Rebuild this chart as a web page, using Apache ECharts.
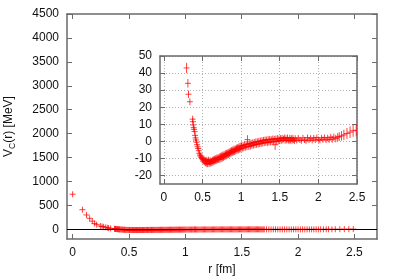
<!DOCTYPE html>
<html><head><meta charset="utf-8">
<script src="https://cdn.jsdelivr.net/npm/echarts@6/dist/echarts.min.js"></script>
<style>html,body{margin:0;padding:0;background:#fff}#c{width:399px;height:279px}</style>
</head><body><div id="c"></div>
<script>
// r [fm]
const r = [
  0.000,0.087,0.123,0.151,0.174,0.195,0.213,0.246,0.261,0.275,0.294,0.311,0.319,0.337,
  0.372,0.376,0.380,0.386,0.392,0.398,0.405,0.410,0.415,0.422,0.430,0.437,0.444,0.452,0.460,0.466,0.474,0.482,0.490,0.498,0.505,
  0.510,0.518,0.525,0.532,0.540,0.547,0.554,0.560,0.567,0.574,0.580,0.587,0.594,0.600,0.607,0.614,0.620,0.628,0.635,0.642,0.650,0.657,0.664,0.671,0.678,0.686,0.693,0.700,
  0.708,0.716,0.724,0.732,0.740,0.748,0.756,0.764,0.772,0.780,0.788,0.796,0.804,0.812,0.820,0.828,0.836,0.844,0.852,0.860,0.868,0.876,0.884,0.892,0.900,0.908,0.916,0.924,0.932,0.940,0.948,0.956,0.964,0.972,0.980,0.988,0.996,
  1.005,1.015,1.025,1.035,1.045,1.055,1.065,1.075,1.082,1.090,1.100,1.110,1.120,1.130,1.140,1.150,1.160,1.170,1.180,1.190,1.200,1.210,1.220,1.230,1.240,1.250,1.260,1.270,1.280,1.290,1.300,1.310,1.320,1.330,1.340,1.350,1.360,1.370,1.380,1.390,1.400,1.410,1.420,1.430,1.440,1.450,1.460,1.470,1.480,1.490,1.500,
  1.51,1.52,1.53,1.54,1.55,1.56,1.57,1.58,1.59,1.60,1.61,1.62,1.63,1.64,1.65,1.66,1.67,1.68,1.69,1.70,
  1.72,1.74,1.76,1.78,1.80,1.82,1.84,1.86,1.88,1.90,1.92,1.94,1.96,1.98,2.00,2.02,2.04,2.06,2.08,2.10,2.12,2.14,2.16,2.18,2.20,
  2.225,2.25,2.27,2.30,2.33,2.37,2.41,2.45,2.49
];
// V_C(r) [MeV]
const vc = [
  735,412,302,232,172,124,100,70,62,54,43,34,27.6,23.2,
  13,11.5,9.6,8,7,5.7,3.5,2,0.8,-0.5,-2,-3.2,-4.2,-5.5,-7,-8,-8.6,-9.3,-9.8,-10.3,-10.8,
  -11.6,-10.2,-12.2,-11,-12.8,-10.8,-13.1,-11.4,-13.4,-11.8,-10.8,-13.2,-12,-11.2,-13,-11.6,-12.6,-10.8,-12.4,-10.6,-12,-10.2,-11.6,-10,-11.4,-9.6,-11,-9.4,
  -10.6,-9.2,-10.6,-8.8,-10.2,-8.4,-9.8,-8,-9.4,-7.8,-9,-7.2,-8.6,-7,-8.2,-6.6,-7.8,-6.2,-7.4,-5.8,-7,-5.4,-6.6,-5,-6.2,-4.6,-6,-4.4,-5.6,-4,-5.2,-3.6,-5,-3.2,-4.6,-2.8,-4.4,
  -2.6,-4,-2.4,-3.8,-2,-3.4,-1.8,-3.2,1.0,-1.6,-3,-1.4,-2.8,-1.2,-2.4,-0.8,-2.2,-0.6,-2,-0.4,-1.8,-0.2,-1.6,0,-1.4,0.2,-1.2,0.4,-1,0.6,-0.8,0.8,-0.6,0.8,-0.8,1,-0.4,1.2,-0.4,1,-0.2,1.4,0,1.2,-2,1.4,0,1.6,0.2,1.4,0.4,
  1.8,0.4,2,0.6,1.4,2.2,0.4,1.8,0.6,2.2,0.8,0.2,2,0.6,1.8,0.4,2,0.8,0.2,1.8,
  0.6,2,0.8,0.4,2,0.8,0.4,2.2,0.8,1.8,0.6,2,0.8,2.2,1,0.6,2,1,2.2,0.8,2,1,2.4,1.2,2.4,
  1.6,2.4,2.8,3.2,3.8,4.6,5.4,6.2,6.5
];
// error [MeV]
const err = [
  12,9,7,6,5,4,4,3.5,3.5,2.5,3,2.5,2.2,2,
  2,2,1.8,1.8,1.8,1.8,1.8,1.8,1.8,1.8,1.8,1.8,1.8,1.8,1.8,1.8,1.8,1.8,1.8,1.8,1.8,
  1.8,1.8,1.8,1.8,1.8,1.8,1.8,1.8,1.8,1.8,1.8,1.8,1.8,1.8,1.8,1.8,1.8,1.8,1.8,1.8,1.8,1.8,1.8,1.8,1.8,1.8,1.8,1.8,
  2,2,2,2,2,2,2,2,2,2,2,2,2,2,2,2,2,2,2,2,2,2,2,2,2,2,2,2,2,2,2,2,2,2,2,2,2,
  2,2,2,2,2,2,2,2,2.6,2,2,2,2,2,2,2,2,2,2,2,2,2,2,2,2,2,2,2,2,2,2,2,2,2,2,2,2,2,2,2,2,2,2,2,3,2,2,2,2,2,2,
  1.8,1.8,1.8,1.8,1.8,1.8,1.8,1.8,1.8,1.8,1.8,1.8,1.8,1.8,1.8,1.8,1.8,1.8,1.8,1.8,
  1.8,1.8,1.8,1.8,1.8,1.8,1.8,1.8,1.8,1.8,1.8,1.8,1.8,1.8,1.8,1.8,1.8,1.8,1.8,1.8,1.9,1.9,2,2,2.1,
  2.2,2.4,2.6,2.8,3,3.2,3.4,3.5,3.6
];
const mainXTicks = [0, 0.5, 1, 1.5, 2, 2.5];
const mainYTicks = [0, 500, 1000, 1500, 2000, 2500, 3000, 3500, 4000, 4500];
const insetXTicks = [0, 0.5, 1, 1.5, 2, 2.5];
const insetYTicks = [-20, -10, 0, 10, 20, 30, 40, 50];

const pts = r.map((x, i) => [x, vc[i], err[i]]);
const FONT = 'Liberation Sans';
const frame = { show: true, onZero: false, lineStyle: { color: '#6a6a6a', width: 1.5 } };
const txt = { color: '#111', fontFamily: FONT, fontSize: 12 };

function renderErr(params, api) {
  const x = api.value(0), y = api.value(1), e = api.value(2);
  const c = api.coord([x, y]);
  const hi = api.coord([x, y + e]);
  const lo = api.coord([x, y - e]);
  const h = 3;
  const st = { stroke: 'rgba(255,0,0,0.75)', lineWidth: 1, fill: null };
  return {
    type: 'group',
    children: [
      { type: 'line', shape: { x1: c[0], y1: Math.min(hi[1], c[1] - h), x2: c[0], y2: Math.max(lo[1], c[1] + h) }, style: st },
      { type: 'line', shape: { x1: c[0] - h, y1: c[1], x2: c[0] + h, y2: c[1] }, style: st }
    ]
  };
}

function ax(grid, min, max, ticks, pos, labels, extra) {
  return Object.assign({
    gridIndex: grid, type: 'value', min: min, max: max, position: pos,
    axisLine: frame,
    axisTick: { show: true, inside: true, length: 5, customValues: ticks, lineStyle: { color: '#6a6a6a' } },
    axisLabel: { show: labels, customValues: ticks, margin: 8, color: txt.color, fontFamily: FONT, fontSize: 12,
      formatter: v => String(v) },
    splitLine: { show: false }
  }, extra || {});
}
const dotted = { show: true, lineStyle: { color: '#b0b0b0', type: [1, 2], width: 1 } };

const chart = echarts.init(document.getElementById('c'), null, { renderer: 'canvas' });
chart.setOption({
  animation: false,
  backgroundColor: '#fff',
  grid: [
    { left: 67, top: 14, width: 310, height: 225, outerBoundsMode: 'none', containLabel: false },
    { left: 160, top: 56, width: 197, height: 128, outerBoundsMode: 'none', containLabel: false,
      show: true, backgroundColor: '#fff', borderWidth: 0 }
  ],
  xAxis: [
    ax(0, -0.05, 2.7, mainXTicks, 'bottom', true, { name: 'r [fm]', nameLocation: 'middle', nameGap: 25, nameTextStyle: txt }),
    ax(0, -0.05, 2.7, mainXTicks, 'top', false),
    ax(1, -0.05, 2.5, insetXTicks, 'bottom', true, { splitLine: dotted }),
    ax(1, -0.05, 2.5, insetXTicks, 'top', false)
  ],
  yAxis: [
    ax(0, -200, 4500, mainYTicks, 'left', true, {
      name: '{a|V}{s|C}{a|(r) [MeV]}', nameLocation: 'middle', nameGap: 50,
      nameTextStyle: { color: '#111', fontFamily: FONT, rich: {
        a: { fontSize: 12, fontFamily: FONT, color: '#111' },
        s: { fontSize: 8.5, fontFamily: FONT, color: '#111', padding: [7, 0, 0, 0] }
      } }
    }),
    ax(0, -200, 4500, mainYTicks, 'right', false),
    ax(1, -25, 50, insetYTicks, 'left', true, { splitLine: dotted }),
    ax(1, -25, 50, insetYTicks, 'right', false)
  ],
  series: [
    { type: 'line', xAxisIndex: 0, yAxisIndex: 0, data: [], silent: true,
      markLine: { silent: true, symbol: 'none', label: { show: false },
        lineStyle: { color: '#000', width: 1, type: 'solid' }, data: [{ yAxis: 0 }] } },
    { type: 'custom', xAxisIndex: 0, yAxisIndex: 0, data: pts, clip: true, renderItem: renderErr, encode: { x: 0, y: 1 }, z: 3 },
    { type: 'custom', xAxisIndex: 2, yAxisIndex: 2, data: pts, clip: true, renderItem: renderErr, encode: { x: 0, y: 1 }, z: 3 }
  ]
});
</script></body></html>
